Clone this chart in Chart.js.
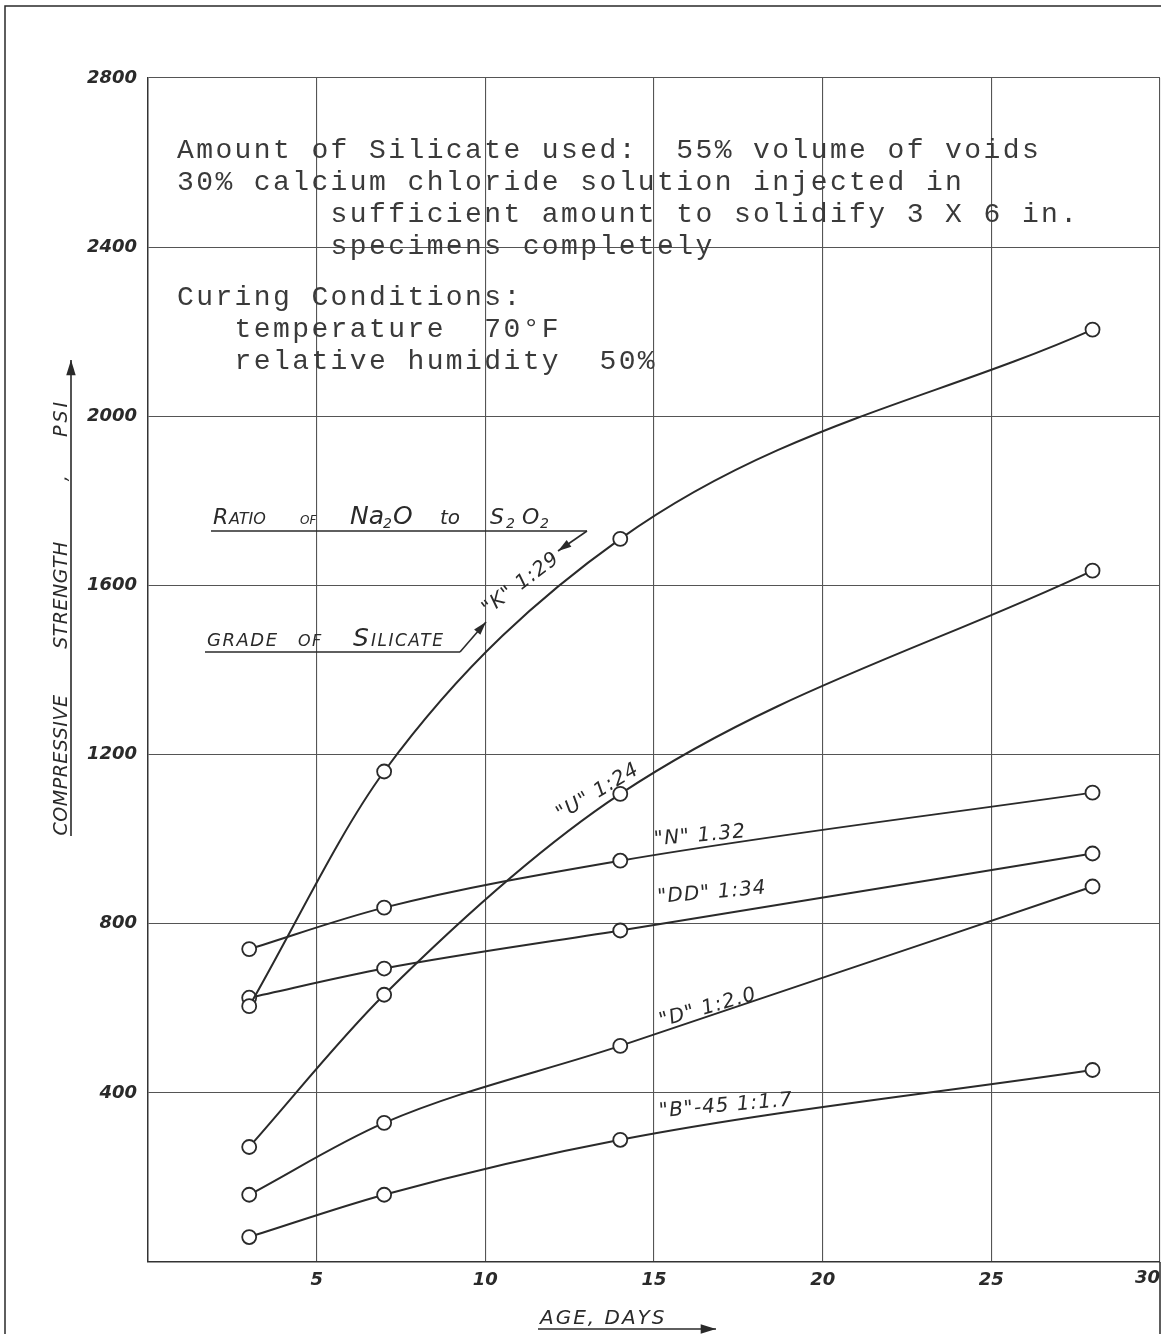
<!DOCTYPE html>
<html>
<head>
<meta charset="utf-8">
<script src="https://cdn.jsdelivr.net/npm/chart.js@4/dist/chart.umd.min.js"></script>
<style>
    body { margin: 0; background: #fff; }
    canvas { display: block; }
</style>
</head>
<body>
<canvas id="grafico" width="1161" height="1334"></canvas>
<script>
// idade dos corpos de prova (dias)
const dias = [3, 7, 14, 28];

// resistencia a compressao (psi) por grau de silicato
const serieK = [605, 1160, 1710, 2205];
const serieU = [272, 632, 1107, 1635];
const serieN = [740, 838, 949, 1110];
const serieDD = [625, 694, 784, 966];
const serieD = [159, 329, 511, 888];
const serieB45 = [59, 159, 289, 454];

const nomesSeries = ['"K" 1:29', '"U" 1:24', '"N" 1.32', '"DD" 1:34', '"D" 1:2.0', '"B"-45 1:1.7'];

const ticksX = [5, 10, 15, 20, 25, 30];
const ticksY = [400, 800, 1200, 1600, 2000, 2400, 2800];

const textoBloco = [
    'Amount of Silicate used:  55% volume of voids',
    '30% calcium chloride solution injected in',
    '        sufficient amount to solidify 3 X 6 in.',
    '        specimens completely',
    '',
    'Curing Conditions:',
    '   temperature  70\u00b0F',
    '   relative humidity  50%'
];

const TINTA = '#2a2a2a';
const MAO = '"DejaVu Sans", sans-serif';

function textoGirado(ctx, str, x, y, ang, fonte, espaco) {
    ctx.save();
    ctx.translate(x, y);
    ctx.rotate(ang * Math.PI / 180);
    ctx.font = fonte;
    ctx.letterSpacing = (espaco || 0) + 'px';
    ctx.textAlign = 'center';
    ctx.textBaseline = 'middle';
    ctx.fillText(str, 0, 0);
    ctx.restore();
}

function seta(ctx, x1, y1, x2, y2, tam) {
    const a = Math.atan2(y2 - y1, x2 - x1);
    ctx.beginPath();
    ctx.moveTo(x1, y1);
    ctx.lineTo(x2, y2);
    ctx.stroke();
    ctx.beginPath();
    ctx.moveTo(x2, y2);
    ctx.lineTo(x2 - tam * Math.cos(a - 0.3), y2 - tam * Math.sin(a - 0.3));
    ctx.lineTo(x2 - tam * Math.cos(a + 0.3), y2 - tam * Math.sin(a + 0.3));
    ctx.closePath();
    ctx.fill();
}

// fundo branco
const fundo = {
    id: 'fundo',
    beforeDraw(chart) {
        const ctx = chart.ctx;
        ctx.save();
        ctx.fillStyle = '#fff';
        ctx.fillRect(0, 0, chart.width, chart.height);
        ctx.restore();
    }
};

// textos, setas e moldura da folha
const anotacoes = {
    id: 'anotacoes',
    afterDraw(chart) {
        const ctx = chart.ctx;
        const xs = chart.scales.x;
        ctx.save();
        ctx.fillStyle = TINTA;
        ctx.strokeStyle = TINTA;

        // moldura
        ctx.lineWidth = 1.5;
        ctx.beginPath();
        ctx.moveTo(5, 1334);
        ctx.lineTo(5, 6);
        ctx.lineTo(1161, 6);
        ctx.moveTo(1160, chart.chartArea.bottom);
        ctx.lineTo(1160, 1334);
        ctx.stroke();

        // ultimo rotulo do eixo x (fica encostado na borda)
        ctx.font = 'italic bold 18px ' + MAO;
        ctx.textAlign = 'right';
        ctx.textBaseline = 'middle';
        ctx.fillText('30', xs.getPixelForValue(30), 1278);

        // bloco datilografado
        ctx.font = '28px "Liberation Mono", monospace';
        ctx.letterSpacing = '2.4px';
        ctx.textAlign = 'left';
        ctx.textBaseline = 'alphabetic';
        ctx.fillStyle = '#3a3a3a';
        const bases = [158, 190, 222, 254, 0, 305, 337, 369];
        textoBloco.forEach((linha, i) => {
            if (linha) ctx.fillText(linha, 177, bases[i]);
        });
        ctx.letterSpacing = '0px';
        ctx.fillStyle = TINTA;

        // rotulos das curvas
        const posRotulos = [
            [521, 584, -37], [598, 792, -31], [700, 836, -5],
            [712, 893, -5], [708, 1008, -16], [726, 1106, -5]
        ];
        nomesSeries.forEach((nome, i) => {
            const p = posRotulos[i];
            textoGirado(ctx, nome, p[0], p[1], p[2], 'italic 20px ' + MAO, 1);
        });

        // RATIO OF Na2O to S2O2
        ctx.textBaseline = 'alphabetic';
        ctx.textAlign = 'left';
        const partesRatio = [
            ['R', 22, 213, 0], ['ATIO', 16, 229, 0], ['OF', 12, 300, 0],
            ['Na', 25, 350, 0], ['2', 14, 383, 4], ['O', 25, 393, 0],
            ['to', 20, 440, 0], ['S', 22, 490, 0], ['2', 14, 506, 4],
            ['O', 22, 522, 0], ['2', 14, 540, 4]
        ];
        partesRatio.forEach(p => {
            ctx.font = 'italic ' + p[1] + 'px ' + MAO;
            ctx.fillText(p[0], p[2], 524 + p[3]);
        });
        ctx.lineWidth = 1.6;
        ctx.beginPath();
        ctx.moveTo(211, 531);
        ctx.lineTo(587, 531);
        ctx.stroke();
        seta(ctx, 587, 531, 558, 551, 14);

        // GRADE OF SILICATE
        const partesGrade = [
            ['GRADE', 18, 207, 1.5], ['OF', 16, 298, 1.5],
            ['S', 25, 353, 0], ['ILICATE', 17, 371, 1.5]
        ];
        partesGrade.forEach(p => {
            ctx.font = 'italic ' + p[1] + 'px ' + MAO;
            ctx.letterSpacing = p[3] + 'px';
            ctx.fillText(p[0], p[2], 646);
        });
        ctx.letterSpacing = '0px';
        ctx.beginPath();
        ctx.moveTo(205, 652);
        ctx.lineTo(460, 652);
        ctx.stroke();
        seta(ctx, 460, 652, 486, 622, 14);

        // titulo do eixo y
        const partesY = [['COMPRESSIVE', 765], ['STRENGTH', 595], [',', 478], ['PSI', 418]];
        partesY.forEach(p => {
            ctx.save();
            ctx.translate(67, p[1]);
            ctx.rotate(-Math.PI / 2);
            ctx.font = 'italic 19px ' + MAO;
            ctx.letterSpacing = p[0] === 'PSI' ? '3px' : '0.5px';
            ctx.textAlign = 'center';
            ctx.textBaseline = 'alphabetic';
            ctx.fillText(p[0], 0, 0);
            ctx.restore();
        });
        ctx.lineWidth = 1.6;
        seta(ctx, 71, 836, 71, 360, 16);

        // titulo do eixo x
        ctx.font = 'italic 20px ' + MAO;
        ctx.letterSpacing = '2px';
        ctx.textAlign = 'left';
        ctx.fillText('AGE, DAYS', 540, 1324);
        ctx.letterSpacing = '0px';
        seta(ctx, 538, 1329, 716, 1329, 16);

        ctx.restore();
    }
};

function montaSerie(valores) {
    return {
        data: dias.map((d, i) => ({ x: d, y: valores[i] })),
        borderColor: TINTA,
        borderWidth: 2,
        pointRadius: 7,
        pointBorderWidth: 1.8,
        pointBackgroundColor: '#fff',
        pointBorderColor: TINTA,
        cubicInterpolationMode: 'monotone',
        fill: false
    };
}

document.addEventListener('DOMContentLoaded', () => {
    const ctx = document.getElementById('grafico').getContext('2d');
    const series = [serieK, serieU, serieN, serieDD, serieD, serieB45];

    new Chart(ctx, {
        type: 'line',
        data: {
            datasets: series.map((s, i) => Object.assign(montaSerie(s), { label: nomesSeries[i] }))
        },
        options: {
            responsive: false,
            animation: false,
            // sem autoPadding para a area do grafico encostar na borda direita
            layout: { autoPadding: false, padding: { left: 0, top: 78, right: 1, bottom: 0 } },
            plugins: {
                legend: { display: false },
                title: { display: false },
                tooltip: { enabled: false }
            },
            scales: {
                x: {
                    type: 'linear',
                    min: 0,
                    max: 30,
                    afterBuildTicks: scale => { scale.ticks = ticksX.map(v => ({ value: v })); },
                    afterFit: scale => {
                        scale.height = 72;
                        scale.paddingLeft = 0;
                        scale.paddingRight = 0;
                    },
                    grid: { color: '#555', lineWidth: 1.1, drawTicks: false },
                    border: { color: '#333', width: 1.5 },
                    ticks: {
                        color: TINTA,
                        padding: 8,
                        maxRotation: 0,
                        font: { family: MAO, style: 'italic', weight: 'bold', size: 18 },
                        callback: v => (v === 30 ? '' : v)
                    }
                },
                y: {
                    min: 0,
                    max: 2800,
                    afterBuildTicks: scale => { scale.ticks = ticksY.map(v => ({ value: v })); },
                    afterFit: scale => {
                        scale.width = 148;
                        scale.paddingTop = 0;
                        scale.paddingBottom = 0;
                    },
                    grid: { color: '#555', lineWidth: 1.1, drawTicks: false },
                    border: { color: '#333', width: 1.5 },
                    ticks: {
                        color: TINTA,
                        padding: 11,
                        font: { family: MAO, style: 'italic', weight: 'bold', size: 18 },
                        callback: v => v
                    }
                }
            }
        },
        plugins: [fundo, anotacoes]
    });
});
</script>
</body>
</html>
